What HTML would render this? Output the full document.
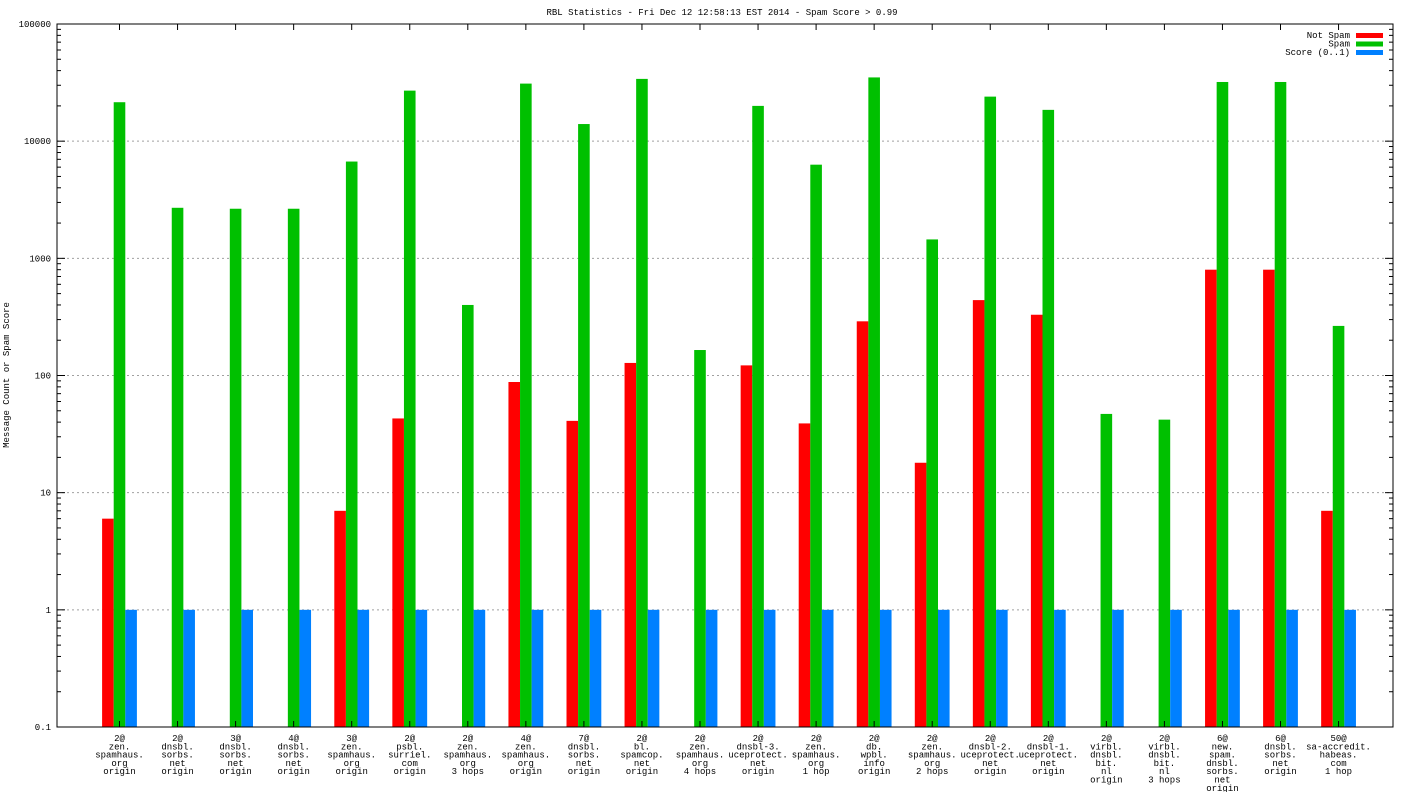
<!DOCTYPE html>
<html><head><meta charset="utf-8"><style>
html,body{margin:0;padding:0;background:#fff;}
svg{display:block;font-family:"Liberation Mono","DejaVu Sans Mono",monospace;}
</style></head><body>
<svg id="chart" width="1408" height="792" viewBox="0 0 1408 792"></svg>
<script>
const categories = [
["2@","zen.","spamhaus.","org","origin"],
["2@","dnsbl.","sorbs.","net","origin"],
["3@","dnsbl.","sorbs.","net","origin"],
["4@","dnsbl.","sorbs.","net","origin"],
["3@","zen.","spamhaus.","org","origin"],
["2@","psbl.","surriel.","com","origin"],
["2@","zen.","spamhaus.","org","3 hops"],
["4@","zen.","spamhaus.","org","origin"],
["7@","dnsbl.","sorbs.","net","origin"],
["2@","bl.","spamcop.","net","origin"],
["2@","zen.","spamhaus.","org","4 hops"],
["2@","dnsbl-3.","uceprotect.","net","origin"],
["2@","zen.","spamhaus.","org","1 hop"],
["2@","db.","wpbl.","info","origin"],
["2@","zen.","spamhaus.","org","2 hops"],
["2@","dnsbl-2.","uceprotect.","net","origin"],
["2@","dnsbl-1.","uceprotect.","net","origin"],
["2@","virbl.","dnsbl.","bit.","nl","origin"],
["2@","virbl.","dnsbl.","bit.","nl","3 hops"],
["6@","new.","spam.","dnsbl.","sorbs.","net","origin"],
["6@","dnsbl.","sorbs.","net","origin"],
["50@","sa-accredit.","habeas.","com","1 hop"]
];
const notSpam = [6,0,0,0,7,43,0,88,41,128,0,122,39,290,18,440,330,0,0,800,800,7];
const spam = [21500,2700,2650,2650,6700,27000,400,31000,14000,34000,165,20000,6300,35000,1450,24000,18500,47,42,32000,32000,265];
const score = [1,1,1,1,1,1,1,1,1,1,1,1,1,1,1,1,1,1,1,1,1,1];
const yTicks = [0.1,1,10,100,1000,10000,100000];
const yTickLabels = ["0.1","1","10","100","1000","10000","100000"];

const NS="http://www.w3.org/2000/svg";
const svg=document.getElementById('chart');
const L=57,R=1393,T=24,B=727;
const yMin=-1,yMax=5;
function y(v){return B-(Math.log10(v)-yMin)/(yMax-yMin)*(B-T);}
const step=(R-L)/categories.length*0.9957;
function cx(i){return 119.5+i*58.05;}
function mk(tag,attrs){const e=document.createElementNS(NS,tag);for(const k in attrs)e.setAttribute(k,attrs[k]);svg.appendChild(e);return e;}
function txt(x,yy,s,anchor,size){const t=mk('text',{x:x,y:yy,'text-anchor':anchor||'middle','font-size':size||9,fill:'#000'});t.textContent=s;return t;}

// grid + ticks
yTicks.forEach((v,i)=>{
  const yy=y(v);
  if(i>0&&i<yTicks.length-1){
    const g=mk('line',{x1:L,x2:R,y1:yy,y2:yy,stroke:'#a0a0a0','stroke-width':1,'stroke-dasharray':'2,3'});
    
    
  }
  mk('line',{x1:L,x2:L+8,y1:yy,y2:yy,stroke:'#000'});
  mk('line',{x1:R-8,x2:R,y1:yy,y2:yy,stroke:'#000'});
  const t=txt(L-6,yy+3,yTickLabels[i],'end');
  
  
  if(i<yTicks.length-1){
    for(let m=2;m<=9;m++){const my=y(v*m);
      mk('line',{x1:L,x2:L+4,y1:my,y2:my,stroke:'#000'});
      mk('line',{x1:R-4,x2:R,y1:my,y2:my,stroke:'#000'});}
  }
});
const bw=11.6;
const series=[[notSpam,'#ff0000','bar-not-spam'],[spam,'#00c000','bar-spam'],[score,'#0080ff','bar-score']];
categories.forEach((c,i)=>{
  const x0=cx(i)-bw*1.5;
  series.forEach((s,k)=>{
    const v=s[0][i];
    if(v>0.1){
      const r=mk('rect',{x:x0+k*bw,y:y(v),width:bw,height:B-y(v),fill:s[1]});
      
      
    }
  });
  mk('line',{x1:cx(i),x2:cx(i),y1:B,y2:B-6,stroke:'#000'});
  mk('line',{x1:cx(i),x2:cx(i),y1:T,y2:T+6,stroke:'#000'});
  c.forEach((line,j)=>{
    const t=txt(cx(i),741+j*8.3,line,'middle');
    
    
  });
});
// border
const bd=mk('rect',{x:L,y:T,width:R-L,height:B-T,fill:'none',stroke:'#000','stroke-width':1});


// title
const ti=txt(722,15,'RBL Statistics - Fri Dec 12 12:58:13 EST 2014 - Spam Score > 0.99','middle');


// y title
const yt=mk('text',{x:0,y:0,'text-anchor':'middle','font-size':9,transform:'translate(9,375) rotate(-90)'});
yt.textContent='Message Count or Spam Score';


// legend
const legNames=['Not Spam','Spam','Score (0..1)'];
legNames.forEach((n,k)=>{
  const ly=35+k*8.5;
  const t=txt(1350,ly+3,n,'end');
  
  
  const r=mk('rect',{x:1356,y:ly-2,width:27,height:5,fill:series[k][1]});
  
  
});
</script>
</body></html>
